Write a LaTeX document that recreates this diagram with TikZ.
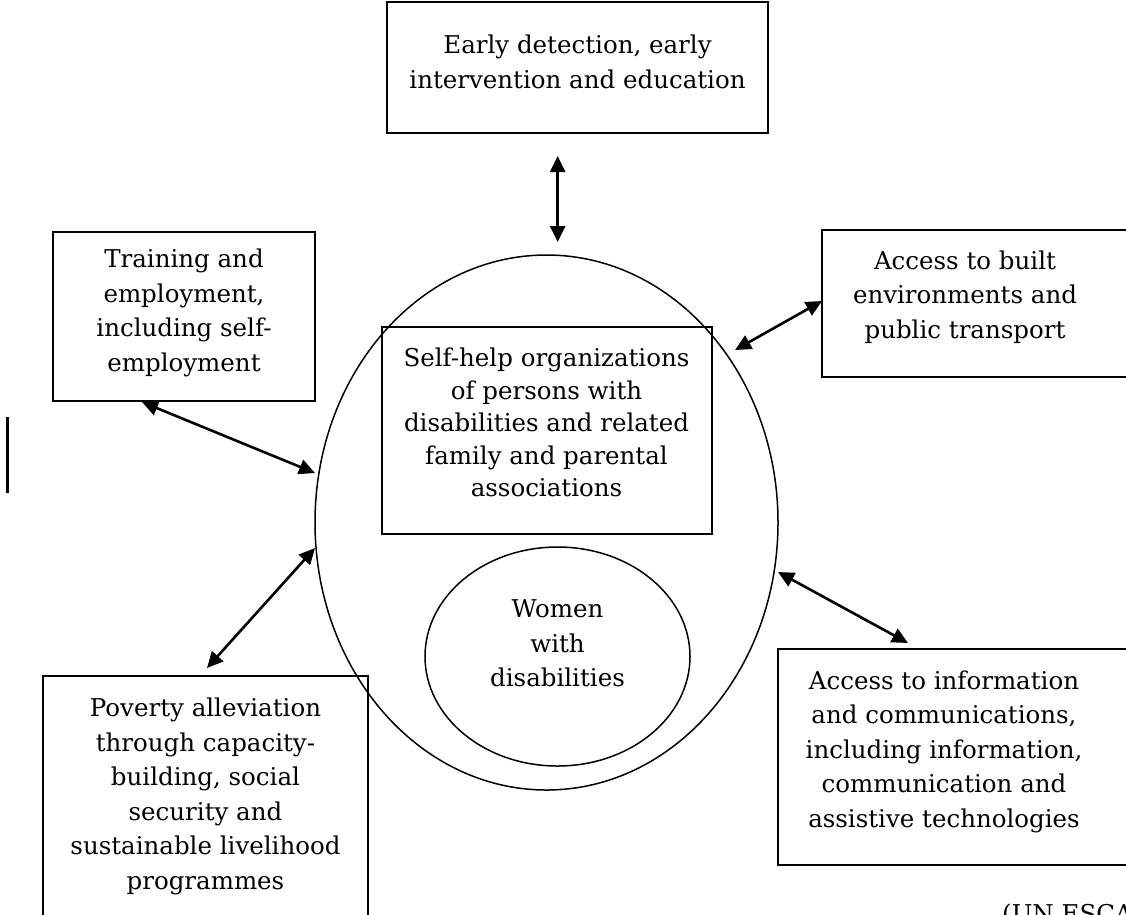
\documentclass[tikz,border=0pt]{standalone}
\usepackage{fontspec}
\setmainfont{DejaVu Serif}
\usetikzlibrary{arrows.meta,shapes.geometric}
\begin{document}
\begin{tikzpicture}[x=1pt,y=-1pt,
  box/.style={draw, line width=1.5pt, inner sep=0pt, outer sep=0pt, anchor=north west},
  oval/.style={draw, ellipse, line width=1.5pt, inner sep=0pt, outer sep=0pt},
  txt/.style={align=center, font=\fontsize{24.5}{34.5}\selectfont, inner sep=0pt},
  link/.style={line width=2.6pt, {Triangle[length=16pt,width=15pt]}-{Triangle[length=16pt,width=15pt]}},
]
\useasboundingbox (0,0) rectangle (1126,914);
% boxes
\node[box, minimum width=381pt, minimum height=131pt] (topbox) at (387,2) {};
\node[box, minimum width=262pt, minimum height=169pt] (trainbox) at (53,232) {};
\node[box, minimum width=330pt, minimum height=147pt] (buildbox) at (822,230) {};
\node[box, minimum width=330pt, minimum height=207pt] (selfbox) at (382,327) {};
\node[box, minimum width=325pt, minimum height=260pt] (povbox) at (43,676) {};
\node[box, minimum width=380pt, minimum height=216pt] (infobox) at (778,649) {};
% ellipses
\node[oval, minimum width=463pt, minimum height=535pt] (outer) at (546.5,522.5) {};
\node[oval, minimum width=265pt, minimum height=219pt] (women) at (557.5,656.5) {};
% texts
\node[txt] (toptext) at (577.5,62) {Early detection, early\\intervention and education};
\node[txt] (traintext) at (184,313) {Training and\\employment,\\including self-\\employment};
\node[txt] (buildtext) at (965,297) {Access to built\\environments and\\public transport};
\node[txt, font=\fontsize{24.5}{32.5}\selectfont] (selftext) at (546.5,422.5) {Self-help organizations\\of persons with\\disabilities and related\\family and parental\\associations};
\node[txt] (womentext) at (557.5,643.5) {Women\\with\\disabilities};
\node[txt] (povtext) at (205.5,796.5) {Poverty alleviation\\through capacity-\\building, social\\security and\\sustainable livelihood\\programmes};
\node[txt] (infotext) at (944,751.5) {Access to information\\and communications,\\including information,\\communication and\\assistive technologies};
\node[txt, anchor=north west] (source) at (1002,904) {(UN ESCAP)};
% arrow ends
\coordinate (a1s) at (142,402);
\coordinate (a1e) at (315,473);
\coordinate (a2s) at (735,350);
\coordinate (a2e) at (822,301);
\coordinate (a3s) at (207,668);
\coordinate (a3e) at (315,548);
\coordinate (a4s) at (778,572);
\coordinate (a4e) at (908,643);
\coordinate (a5s) at (557.7,156);
\coordinate (a5e) at (557.7,242);
\draw[link] (a1s) -- (a1e);
\draw[link] (a2s) -- (a2e);
\draw[link] (a3s) -- (a3e);
\draw[link] (a4s) -- (a4e);
\draw[link] (a5s) -- (a5e);
% stray bar
\coordinate (v1) at (7.5,417);
\coordinate (v2) at (7.5,493);
\draw[line width=2.2pt] (v1) -- (v2);
\end{tikzpicture}
\end{document}
